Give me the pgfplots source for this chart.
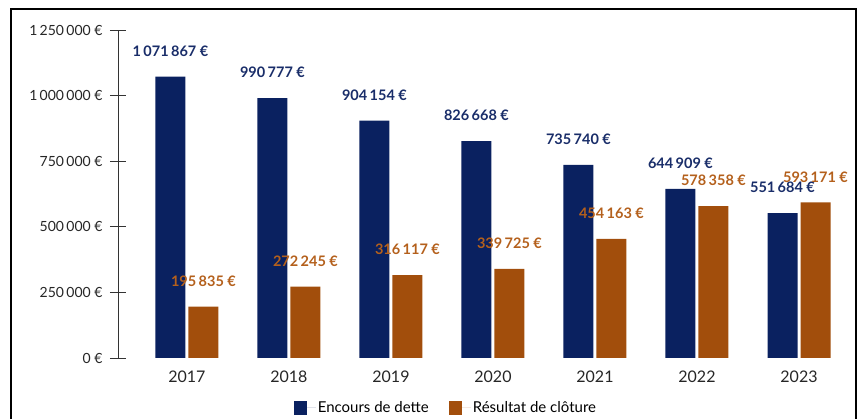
\documentclass[border=0pt]{standalone}
\usepackage{fontspec}
\setmainfont{Lato}
\usepackage{pgfplots}
\pgfplotsset{compat=1.18}
\definecolor{navy}{RGB}{10,33,96}
\definecolor{rust}{RGB}{162,78,12}
\definecolor{navytxt}{RGB}{25,45,105}
\definecolor{rusttxt}{RGB}{180,96,28}
\begin{document}
\begin{tikzpicture}[x=1pt,y=1pt]
\useasboundingbox (0,0) rectangle (860,419);
\draw[line width=2pt] (11,-5) -- (11,410) -- (856,410) -- (856,-5);
\begin{axis}[
  at={(118pt,61pt)}, anchor=south west,
  scale only axis, width=732pt, height=328pt,
  xmin=-0.676, xmax=6.5, ymin=0, ymax=1250000,
  scaled y ticks=false,
  ybar=3pt, bar width=30pt,
  axis lines=left,
  x axis line style={draw=none},
  y axis line style={-, black!80, line width=0.8pt},
  xtick={0,...,6},
  xticklabels={2017,2018,2019,2020,2021,2022,2023},
  xtick style={draw=none},
  ytick={0,250000,500000,750000,1000000,1250000},
  yticklabels={0 €,250\,000 €,500\,000 €,750\,000 €,1\,000\,000 €,1\,250\,000 €},
  ytick style={black!80, line width=0.8pt},
  tick align=center, major tick length=16pt,
  yticklabel style={font=\fontsize{14}{16}\selectfont, text=black!85, xshift=-4pt},
  xticklabel style={font=\fontsize{16}{18}\selectfont, text=black!85, yshift=-1pt},
  point meta=explicit symbolic,
  nodes near coords,
  every node near coord/.append style={font=\bfseries\fontsize{14.5}{17}\selectfont, inner sep=0pt, anchor=south, yshift=20pt},
  legend style={at={(0.448,0)}, anchor=center, yshift=-50pt, draw=none,
    legend columns=2, font=\fontsize{15}{17}\selectfont,
    /tikz/every even column/.append style={column sep=18pt}},
  legend image code/.code={\fill[#1] (0pt,-7pt) rectangle (13pt,7pt); \path (0pt,0pt) -- (22pt,0pt);},
]
\addplot[fill=navy, draw=none, every node near coord/.append style={text=navytxt}] coordinates {
  (0,1071867) [1\,071\,867 €]
  (1,990777) [990\,777 €]
  (2,904154) [904\,154 €]
  (3,826668) [826\,668 €]
  (4,735740) [735\,740 €]
  (5,644909) [644\,909 €]
  (6,551684) [551\,684 €]
};
\addplot[fill=rust, draw=none, every node near coord/.append style={text=rusttxt}] coordinates {
  (0,195835) [195\,835 €]
  (1,272245) [272\,245 €]
  (2,316117) [316\,117 €]
  (3,339725) [339\,725 €]
  (4,454163) [454\,163 €]
  (5,578358) [578\,358 €]
  (6,593171) [593\,171 €]
};
\legend{Encours de dette, Résultat de clôture}
\end{axis}
\end{tikzpicture}
\end{document}
